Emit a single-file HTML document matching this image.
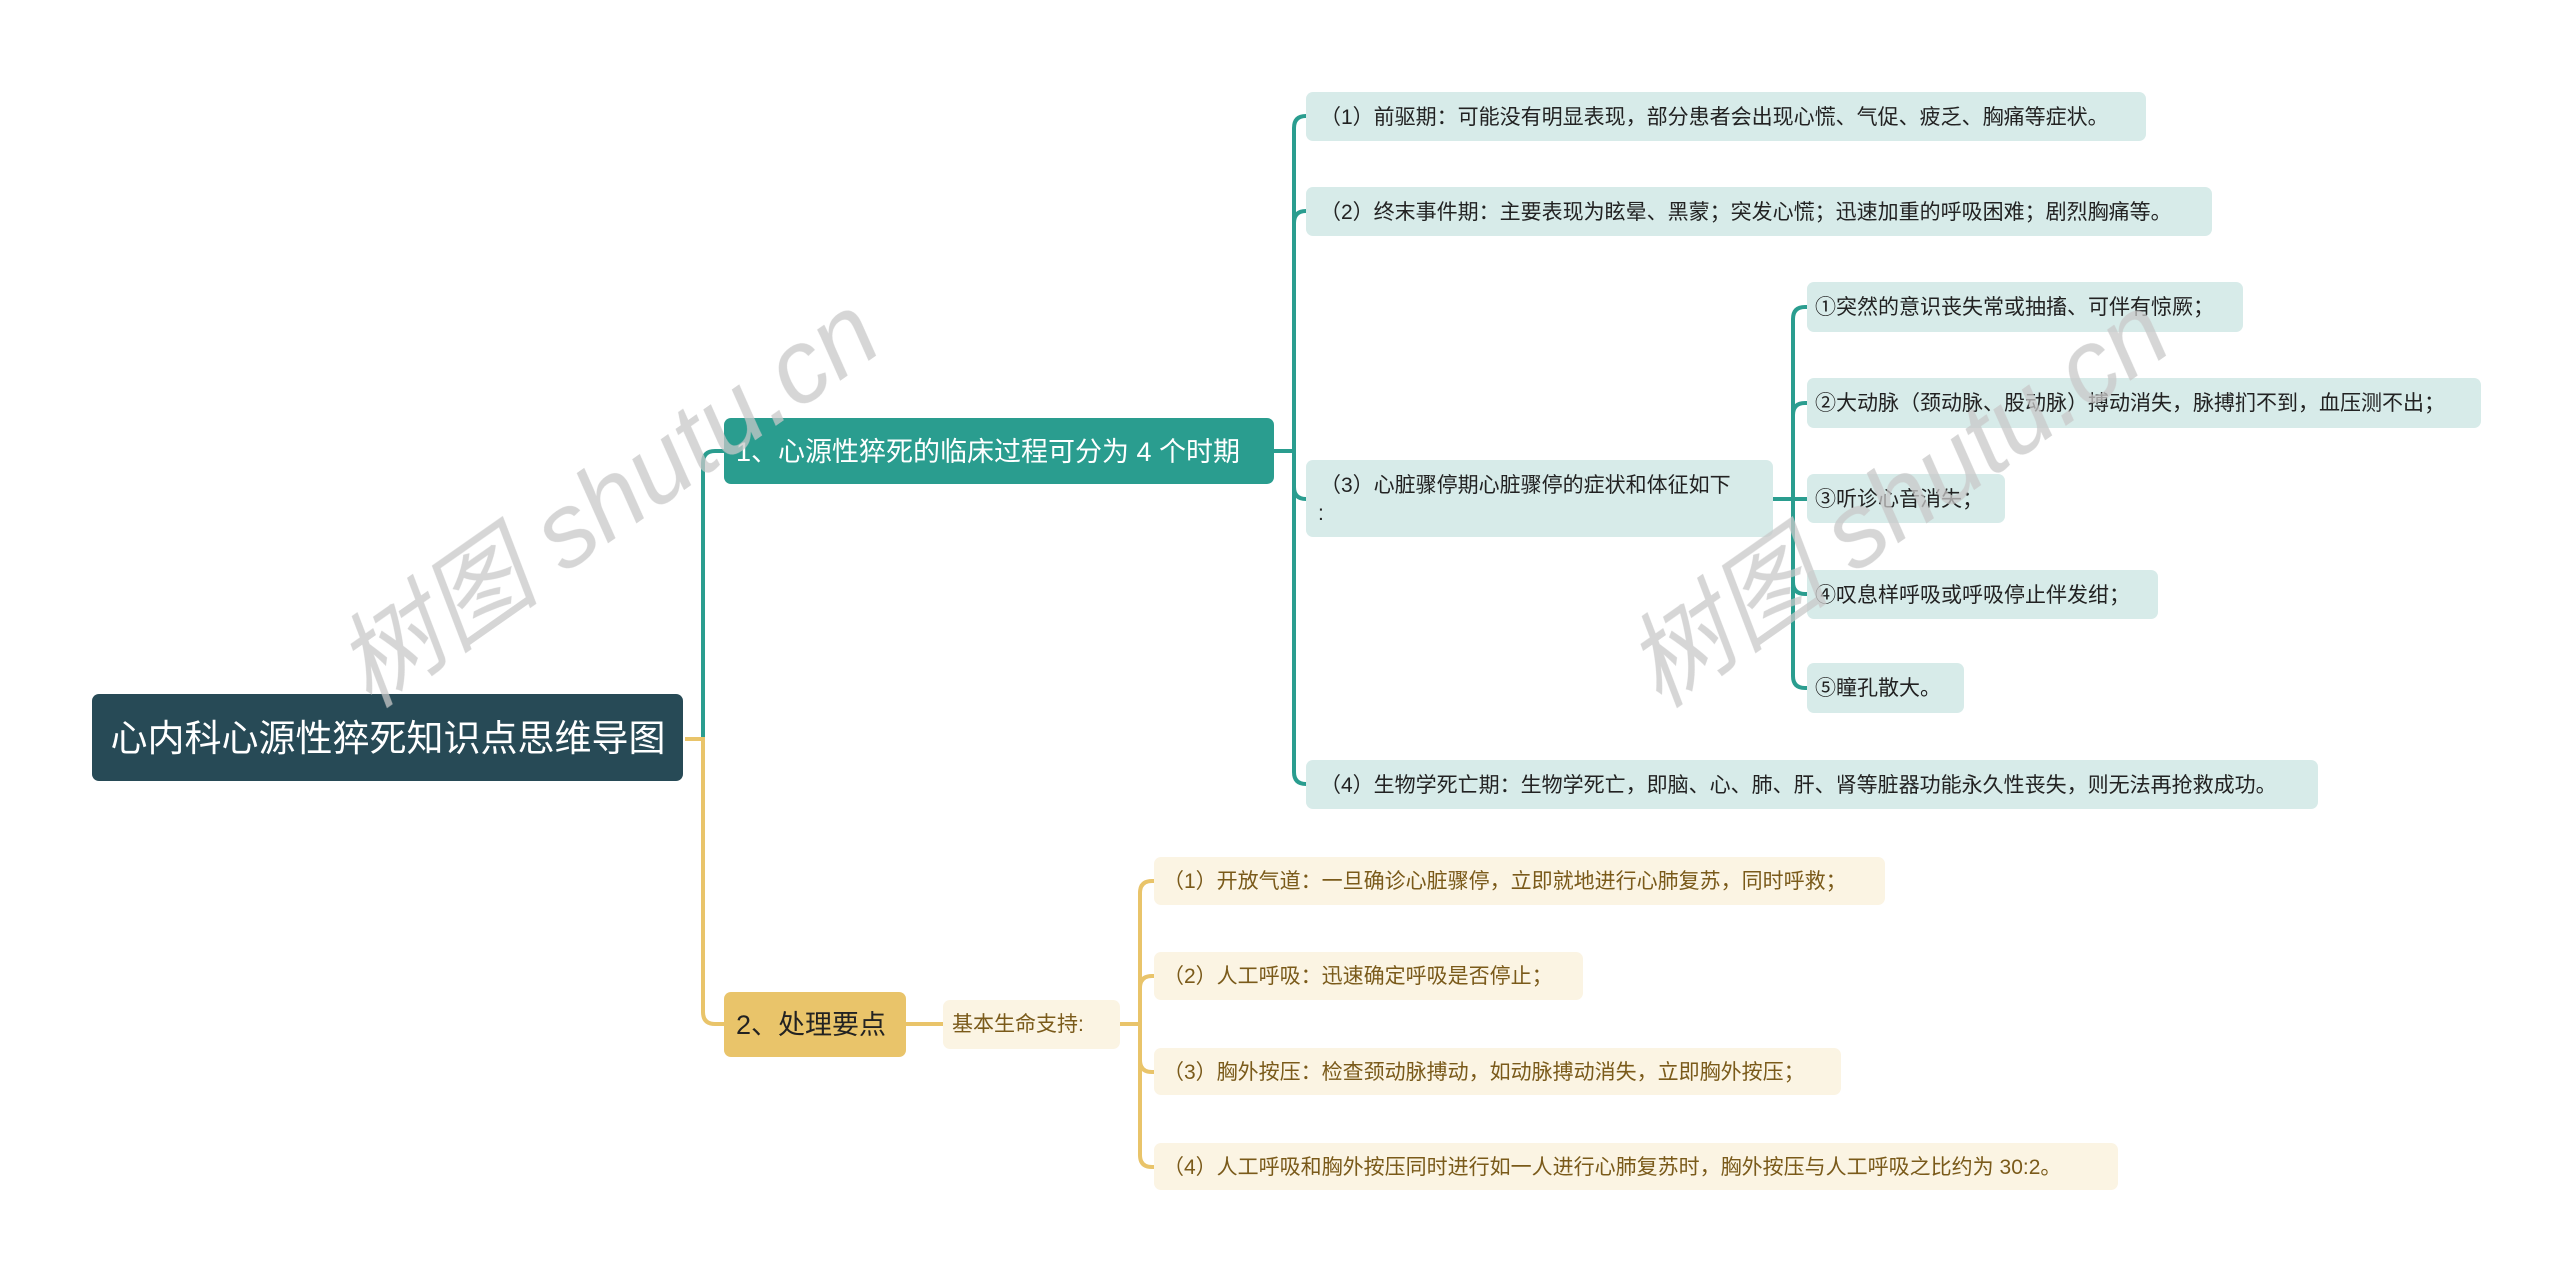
<!DOCTYPE html>
<html><head><meta charset="utf-8"><style>
html,body{margin:0;padding:0;background:#fff;}
svg{display:block;}
text{font-family:"Liberation Sans","Noto Sans CJK SC",sans-serif;}
</style></head><body>
<svg width="2560" height="1279" viewBox="0 0 2560 1279" xmlns="http://www.w3.org/2000/svg">
<g fill="none" stroke-width="4">
<path d="M685 739 H703 V463 Q703 451 715 451 H724" stroke="#2a9d8f"/>
<path d="M685 739 H703 V1012 Q703 1024 715 1024 H724" stroke="#e9c46a"/>
<g stroke="#2a9d8f">
<path d="M1274 451 H1294"/>
<path d="M1294 451 V128 Q1294 116 1306 116 H1312"/>
<path d="M1294 451 V223 Q1294 211 1306 211 H1312"/>
<path d="M1294 451 V487 Q1294 499 1306 499 H1312"/>
<path d="M1294 451 V772 Q1294 784 1306 784 H1312"/>
<path d="M1773 499 H1793"/>
<path d="M1793 499 V319 Q1793 307 1805 307 H1813"/>
<path d="M1793 499 V415 Q1793 403 1805 403 H1813"/>
<path d="M1793 499 H1813"/>
<path d="M1793 499 V582 Q1793 594 1805 594 H1813"/>
<path d="M1793 499 V676 Q1793 688 1805 688 H1813"/>
</g>
<g stroke="#e9c46a">
<path d="M906 1024 H947"/>
<path d="M1120 1024 H1140"/>
<path d="M1140 1024 V893 Q1140 881 1152 881 H1159"/>
<path d="M1140 1024 V988 Q1140 976 1152 976 H1159"/>
<path d="M1140 1024 V1060 Q1140 1072 1152 1072 H1159"/>
<path d="M1140 1024 V1155 Q1140 1167 1152 1167 H1159"/>
</g>
</g>
<rect x="92" y="694" width="591" height="87" rx="7" fill="#274a56"/>
<text x="388" y="751" font-size="37" fill="#fff" text-anchor="middle">心内科心源性猝死知识点思维导图</text>
<rect x="724" y="418" width="550" height="66" rx="7" fill="#2a9d8f"/>
<text x="736" y="461" font-size="27" fill="#fff">1、心源性猝死的临床过程可分为 4 个时期</text>
<rect x="724" y="992" width="182" height="65" rx="7" fill="#e9c46a"/>
<text x="736" y="1034" font-size="27" fill="#222">2、处理要点</text>
<g font-size="21" fill="#222">
<rect x="1306" y="92" width="840" height="49" rx="7" fill="#d7ebe9"/>
<text x="1320" y="124">（1）前驱期：可能没有明显表现，部分患者会出现心慌、气促、疲乏、胸痛等症状。</text>
<rect x="1306" y="187" width="906" height="49" rx="7" fill="#d7ebe9"/>
<text x="1320" y="219">（2）终末事件期：主要表现为眩晕、黑蒙；突发心慌；迅速加重的呼吸困难；剧烈胸痛等。</text>
<rect x="1306" y="460" width="467" height="77" rx="7" fill="#d7ebe9"/>
<text x="1320" y="492">（3）心脏骤停期心脏骤停的症状和体征如下</text>
<text x="1318" y="520">:</text>
<rect x="1306" y="760" width="1012" height="49" rx="7" fill="#d7ebe9"/>
<text x="1320" y="792">（4）生物学死亡期：生物学死亡，即脑、心、肺、肝、肾等脏器功能永久性丧失，则无法再抢救成功。</text>
<rect x="1807" y="282" width="436" height="50" rx="7" fill="#d7ebe9"/>
<text x="1815" y="314">①突然的意识丧失常或抽搐、可伴有惊厥；</text>
<rect x="1807" y="378" width="674" height="50" rx="7" fill="#d7ebe9"/>
<text x="1815" y="410">②大动脉（颈动脉、股动脉）搏动消失，脉搏扪不到，血压测不出；</text>
<rect x="1807" y="474" width="198" height="49" rx="7" fill="#d7ebe9"/>
<text x="1815" y="506">③听诊心音消失；</text>
<rect x="1807" y="570" width="351" height="49" rx="7" fill="#d7ebe9"/>
<text x="1815" y="602">④叹息样呼吸或呼吸停止伴发绀；</text>
<rect x="1807" y="663" width="157" height="50" rx="7" fill="#d7ebe9"/>
<text x="1815" y="695">⑤瞳孔散大。</text>
</g>
<g font-size="21" fill="#7a5a1a">
<rect x="943" y="1000" width="177" height="49" rx="7" fill="#fbf4e3"/>
<text x="952" y="1031">基本生命支持:</text>
<rect x="1154" y="857" width="731" height="48" rx="7" fill="#fbf4e3"/>
<text x="1163" y="888">（1）开放气道：一旦确诊心脏骤停，立即就地进行心肺复苏，同时呼救；</text>
<rect x="1154" y="952" width="429" height="48" rx="7" fill="#fbf4e3"/>
<text x="1163" y="983">（2）人工呼吸：迅速确定呼吸是否停止；</text>
<rect x="1154" y="1048" width="687" height="47" rx="7" fill="#fbf4e3"/>
<text x="1163" y="1079">（3）胸外按压：检查颈动脉搏动，如动脉搏动消失，立即胸外按压；</text>
<rect x="1154" y="1143" width="964" height="47" rx="7" fill="#fbf4e3"/>
<text x="1163" y="1174">（4）人工呼吸和胸外按压同时进行如一人进行心肺复苏时，胸外按压与人工呼吸之比约为 30:2。</text>
</g>
<g font-family="'Liberation Serif','Noto Serif CJK SC',serif" font-style="italic" font-size="104" fill="#c8c8c8" opacity="0.75">
<text transform="translate(370,710) rotate(-35)">树图 shutu.cn</text>
<text transform="translate(1660,710) rotate(-35)">树图 shutu.cn</text>
</g>
</svg>
</body></html>
